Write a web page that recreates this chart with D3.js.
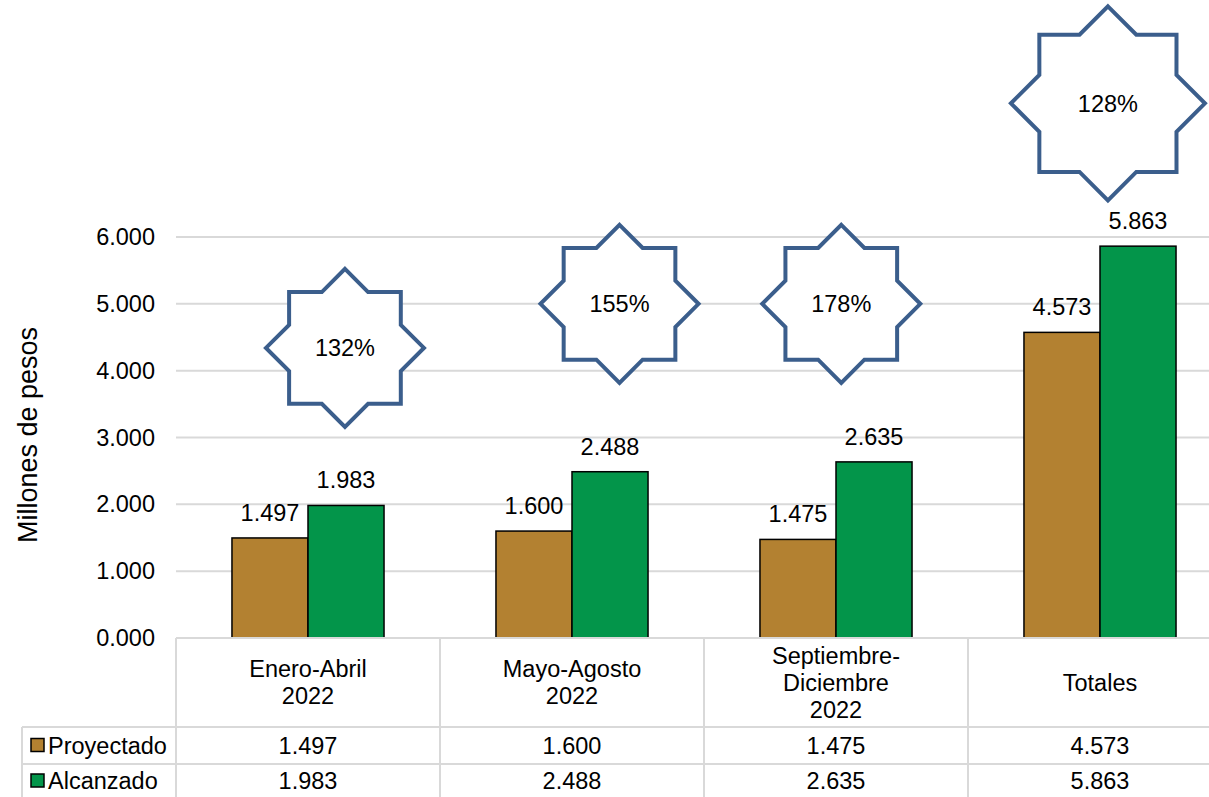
<!DOCTYPE html>
<html>
<head>
<meta charset="utf-8">
<script src="https://cdn.jsdelivr.net/npm/d3@7"></script>
<style>
  body { margin: 0; background: #fff; }
  svg { display: block; font-family: "Liberation Sans", Arial, sans-serif; }
</style>
</head>
<body>
<div id="chart"></div>
<script>
// chart data
var categories = [["Enero-Abril", "2022"], ["Mayo-Agosto", "2022"], ["Septiembre-", "Diciembre", "2022"], ["Totales"]];
var seriesNames = ["Proyectado", "Alcanzado"];
var proyectado = [1.497, 1.600, 1.475, 4.573];
var alcanzado = [1.983, 2.488, 2.635, 5.863];
var yTicks = [0, 1, 2, 3, 4, 5, 6];
// star annotations: label, y value of centre, x offset inside band (fraction), size
var starLabels = ["132%", "155%", "178%", "128%"];
var starY = [4.34, 5.0, 5.0, 8.0];
var starXFrac = [0.64, 0.68, 0.52, 0.53];
var starR = [79, 79, 79, 97];

var colors = { Proyectado: "#b38131", Alcanzado: "#03954a" };

var W = 1209, H = 797;
var left = 176, bandW = 264;
var yTop = 237, yBase = 638;
var headBottom = 727, row1Bottom = 764, row2Bottom = 800, tableLeft = 22;
var fs = 23.5;

var svg = d3.select("#chart").append("svg").attr("width", W).attr("height", H);

var x0 = d3.scaleBand().domain(d3.range(categories.length))
  .range([left, left + bandW * categories.length]);
var x1 = d3.scaleBand().domain(seriesNames)
  .range([x0.bandwidth() * 0.212, x0.bandwidth() * 0.788]);
var y = d3.scaleLinear().domain([0, 6]).range([yBase, yTop]);

var grid = "#d9d9d9";

// gridlines
svg.append("g").selectAll("line")
  .data(yTicks.slice(1)).enter().append("line")
  .attr("x1", left).attr("x2", x0.range()[1])
  .attr("y1", function(d) { return y(d); }).attr("y2", function(d) { return y(d); })
  .attr("stroke", grid).attr("stroke-width", 2);

// y axis labels
var yAxis = d3.axisLeft(y).tickValues(yTicks).tickSize(0).tickPadding(21)
  .tickFormat(d3.format(".3f"));
var ya = svg.append("g").attr("transform", "translate(" + left + ",0)").call(yAxis);
ya.select(".domain").remove();
ya.selectAll("text").attr("font-size", fs).attr("fill", "#000")
  .attr("font-family", "Liberation Sans, Arial, sans-serif");

svg.append("text")
  .attr("transform", "translate(37,435)rotate(-90)")
  .attr("text-anchor", "middle")
  .attr("font-size", 27)
  .text("Millones de pesos");

// bars
var rows = categories.map(function(c, i) {
  return { i: i, values: [
    { key: "Proyectado", v: proyectado[i] },
    { key: "Alcanzado", v: alcanzado[i] }
  ] };
});

var groups = svg.append("g").selectAll("g")
  .data(rows).enter().append("g")
  .attr("transform", function(d) { return "translate(" + x0(d.i) + ",0)"; });

groups.selectAll("rect")
  .data(function(d) { return d.values; }).enter().append("rect")
  .attr("x", function(d) { return x1(d.key); })
  .attr("width", x1.bandwidth())
  .attr("y", function(d) { return y(d.v); })
  .attr("height", function(d) { return y(0) - y(d.v); })
  .attr("fill", function(d) { return colors[d.key]; })
  .attr("stroke", "#000").attr("stroke-width", 1.5);

groups.selectAll("text")
  .data(function(d) { return d.values; }).enter().append("text")
  .attr("x", function(d) { return x1(d.key) + x1.bandwidth() / 2; })
  .attr("y", function(d) { return y(d.v) - 17; })
  .attr("text-anchor", "middle")
  .attr("font-size", fs)
  .text(function(d) { return d3.format(".3f")(d.v); });

// stars
function starPath(r) {
  var pts = [];
  for (var k = 0; k < 16; k++) {
    var a = -Math.PI / 2 + k * Math.PI / 8;
    var rr = k % 2 === 0 ? r : r * 0.765;
    pts.push([rr * Math.cos(a), rr * Math.sin(a)]);
  }
  return d3.line()(pts) + "Z";
}

var stars = svg.append("g").selectAll("g")
  .data(starLabels).enter().append("g")
  .attr("transform", function(d, i) {
    return "translate(" + (x0(i) + bandW * starXFrac[i]) + "," + y(starY[i]) + ")";
  });
stars.append("path")
  .attr("d", function(d, i) { return starPath(starR[i]); })
  .attr("fill", "#fff")
  .attr("stroke", "#3b5e8c")
  .attr("stroke-width", 4)
  .attr("stroke-linejoin", "miter");
stars.append("text")
  .attr("text-anchor", "middle")
  .attr("dy", "0.35em")
  .attr("font-size", fs)
  .text(function(d) { return d; });

// data table
var tbl = svg.append("g").attr("stroke", grid).attr("stroke-width", 2);
var right = x0.range()[1];
tbl.append("line").attr("x1", left).attr("x2", right).attr("y1", yBase).attr("y2", yBase);
tbl.append("line").attr("x1", tableLeft).attr("x2", right).attr("y1", headBottom).attr("y2", headBottom);
tbl.append("line").attr("x1", tableLeft).attr("x2", right).attr("y1", row1Bottom).attr("y2", row1Bottom);
tbl.append("line").attr("x1", tableLeft).attr("x2", tableLeft).attr("y1", headBottom).attr("y2", H);
tbl.selectAll(".v").data(d3.range(categories.length + 1)).enter().append("line")
  .attr("x1", function(d) { return left + d * bandW; })
  .attr("x2", function(d) { return left + d * bandW; })
  .attr("y1", yBase).attr("y2", H);

// header labels
var lineH = 27;
svg.append("g").selectAll("text")
  .data(categories).enter().append("text")
  .attr("text-anchor", "middle")
  .attr("font-size", fs)
  .attr("transform", function(d, i) {
    var cy = (yBase + headBottom) / 2 - (d.length - 1) * lineH / 2;
    return "translate(" + (x0(i) + bandW / 2) + "," + cy + ")";
  })
  .each(function(d) {
    var t = d3.select(this);
    d.forEach(function(s, j) {
      t.append("tspan").attr("x", 0).attr("y", j * lineH).attr("dy", "0.35em").text(s);
    });
  });

// table rows
var tableRows = [
  { key: "Proyectado", vals: proyectado, cy: (headBottom + row1Bottom) / 2 },
  { key: "Alcanzado", vals: alcanzado, cy: (row1Bottom + row2Bottom) / 2 - 1 }
];
tableRows.forEach(function(r) {
  svg.append("rect")
    .attr("x", 31).attr("y", r.cy - 7).attr("width", 13).attr("height", 13)
    .attr("fill", colors[r.key]).attr("stroke", "#000").attr("stroke-width", 1.5);
  svg.append("text")
    .attr("x", 48).attr("y", r.cy).attr("dy", "0.35em")
    .attr("font-size", fs).text(r.key);
  svg.append("g").selectAll("text")
    .data(r.vals).enter().append("text")
    .attr("x", function(d, i) { return x0(i) + bandW / 2; })
    .attr("y", r.cy).attr("dy", "0.35em")
    .attr("text-anchor", "middle")
    .attr("font-size", fs)
    .text(function(d) { return d3.format(".3f")(d); });
});
</script>
</body>
</html>
